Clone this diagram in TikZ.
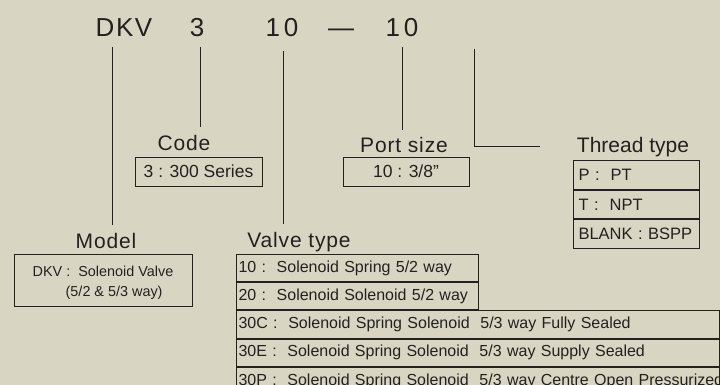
\documentclass[tikz,border=0pt]{standalone}
\usepackage{fontspec}
\setmainfont{Liberation Sans}
\usetikzlibrary{positioning}
\definecolor{paper}{RGB}{216,214,195}
\definecolor{ink}{RGB}{35,33,32}
\newcommand\hdrfont{\fontsize{26}{30}\selectfont}
\tikzset{
  hdr/.style={anchor=base, inner sep=0pt, font=\hdrfont\addfontfeatures{LetterSpace=#1}},
  hdr/.default=8,
  caption/.style={anchor=base, inner xsep=0pt, inner ysep=7pt,
    font=\fontsize{21}{24}\selectfont\addfontfeatures{LetterSpace=4}},
  keybox/.style={draw, inner sep=0pt, minimum height=29pt,
    font=\fontsize{17.5}{20}\selectfont},
  vrow/.style={draw, anchor=north west, inner xsep=2pt, inner ysep=0pt,
    text width=#1, minimum height=27.2pt, align=left,
    font=\fontsize{16}{18}\selectfont},
  trow/.style={vrow=116pt, inner xsep=5pt, minimum height=28.7pt,
    font=\fontsize{16.5}{18}\selectfont}
}

\begin{document}
\begin{tikzpicture}[x=1pt, y=-1pt, line width=1pt, color=ink]

  \fill[paper] (0,0) rectangle (720,385);
  \useasboundingbox (0,0) rectangle (720,385);

  % part number
  \node[hdr=6]  (dkv)   at (124,37) {DKV};
  \node[hdr]    (code)  at (197,37) {3};
  \node[hdr=14] (vtype) at (282,37) {10};
  \node[hdr=0]  (dash)  at (341,37) {\textemdash};
  \node[hdr=14] (port)  at (402,37) {10};

  \coordinate (tapdkv)    at (112,47);
  \coordinate (tapcode)   at (200,47);
  \coordinate (taptype)   at (283,51);
  \coordinate (tapport)   at (402,47);
  \coordinate (tapthread) at (474,49);
  \coordinate (threadend) at (540,147);

  % code
  \node[caption] (codecap) at (184,150) {Code};
  \node[keybox, minimum width=127pt] (codebox) at (198.5,171.5) {3 : 300 Series};

  % port size
  \node[caption] (portcap) at (404,153) {Port size};
  \node[keybox, minimum width=126pt] (portbox) at (406,171.5) {10 : 3/8"};

  % thread type
  \node[caption, font=\fontsize{21}{24}\selectfont] (threadcap) at (633,153) {Thread type};
  \node[trow] (tr1) at (573,160) {P :\ \ PT};
  \node[trow] (tr2) at (tr1.south west) {T :\ \ NPT};
  \node[trow] (tr3) at (tr2.south west) {BLANK : BSPP};

  % model
  \node[caption] (modelcap) at (106,248) {Model};
  \node[draw, minimum width=178pt, minimum height=52pt, inner sep=0pt] (modelbox) at (103,280) {};
  \node[align=left, inner sep=0pt, font=\fontsize{14.4}{20}\selectfont] (modeltext)
        at ([yshift=-3pt]modelbox.center)
        {DKV :\ \ Solenoid Valve\\\hspace*{33pt}(5/2 \& 5/3 way)};

  % valve type
  \node[caption] (typecap) at (299,247) {Valve type};
  \node[vrow=238pt] (vr1) at (236,254) {10 :\ \ Solenoid Spring 5/2 way};
  \node[vrow=238pt] (vr2) at (vr1.south west) {20 :\ \ Solenoid Solenoid 5/2 way};
  \node[vrow=479pt] (vr3) at (vr2.south west) {30C :\ \ Solenoid Spring Solenoid\ \ 5/3 way Fully Sealed};
  \node[vrow=479pt] (vr4) at (vr3.south west) {30E :\ \ Solenoid Spring Solenoid\ \ 5/3 way Supply Sealed};
  \node[vrow=479pt] (vr5) at (vr4.south west) {\mbox{30P :\ \ Solenoid Spring Solenoid\ \ 5/3 way Centre Open Pressurized}};

  \draw (tapdkv) -- (tapdkv |- modelcap.north)
        (tapcode) -- (tapcode |- codecap.north)
        (taptype) -- (taptype |- typecap.north)
        (tapport) -- (tapport |- portcap.north);
  \draw (tapthread) |- (threadend);
\end{tikzpicture}
\end{document}
